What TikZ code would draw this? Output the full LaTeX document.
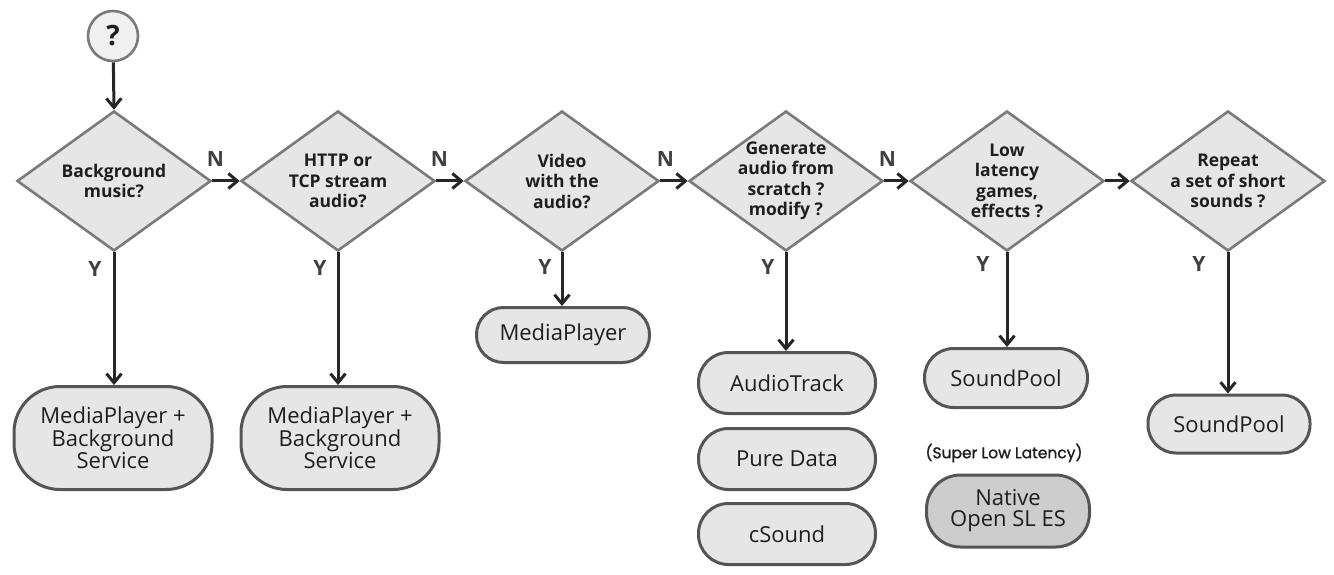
\documentclass[tikz,border=0pt]{standalone}
\usepackage{fontspec}
\setmainfont{Open Sans}
\newfontfamily\popfont[FakeBold=1.2]{Poppins}
\usetikzlibrary{shapes.geometric,arrows.meta}
\definecolor{boxfill}{HTML}{E6E6E6}
\definecolor{darkfill}{HTML}{CDCDCD}
\definecolor{diamondline}{HTML}{7A7A7A}
\definecolor{boxline}{HTML}{555555}
\definecolor{arrowcol}{HTML}{262626}
\definecolor{textcol}{HTML}{1E1E1E}
\definecolor{labcol}{HTML}{404040}
\begin{document}
\begin{tikzpicture}[x=1pt,y=-1pt,
  startnode/.style={circle, draw=diamondline, fill=boxfill!60!white, line width=2.6pt, minimum size=50pt, inner sep=0pt, font=\bfseries\fontsize{28}{28}\selectfont, text=textcol},
  decision/.style={diamond, draw=diamondline, fill=boxfill, line width=2.6pt, minimum width=194pt, minimum height=140pt, inner sep=0pt, shape aspect=1.386},
  qtext/.style={font=\bfseries\fontsize{17.5}{20.5}\selectfont, text=textcol, align=center, inner sep=0pt},
  result/.style={draw=boxline, fill=boxfill, line width=3pt, align=center, inner sep=0pt, font=\fontsize{22}{21}\selectfont, text=textcol},
  flow/.style={draw=arrowcol, line width=3pt, -{Straight Barb[length=9pt,width=15pt,line width=3pt]}},
  yn/.style={font=\bfseries\fontsize{21}{21}\selectfont, text=labcol, inner sep=0pt},
  note/.style={font=\popfont\fontsize{15.5}{16}\selectfont, text=textcol, inner sep=0pt}
]
\useasboundingbox (0,0) rectangle (1334,575);

\node[startnode] (q) at (113,36) {?};

\node[decision] (d1) at (114,181) {};
\node[decision] (d2) at (338,181) {};
\node[decision] (d3) at (562,181) {};
\node[decision] (d4) at (786,181) {};
\node[decision] (d5) at (1007,181) {};
\node[decision] (d6) at (1228,181) {};

\node[qtext] (t1) at (d1) {Background\\music?};
\node[qtext] (t2) at (d2) {HTTP or\\TCP stream\\audio?};
\node[qtext] (t3) at (d3) {Video\\with the\\audio?};
\node[qtext] (t4) at (d4) {Generate\\audio from\\scratch ?\\modify ?};
\node[qtext] (t5) at (d5) {Low\\latency\\games,\\effects ?};
\node[qtext] (t6) at (d6) {Repeat\\a set of short\\sounds ?};

\node[result, minimum width=198pt, minimum height=103pt, rounded corners=46pt] (r1) at (113,438) {MediaPlayer +\\Background\\Service};
\node[result, minimum width=198pt, minimum height=103pt, rounded corners=46pt] (r2) at (340,438) {MediaPlayer +\\Background\\Service};
\node[result, minimum width=173pt, minimum height=55pt, rounded corners=27pt] (r3) at (563,335) {MediaPlayer};
\node[result, minimum width=177pt, minimum height=61pt, rounded corners=30pt] (r4) at (787,383) {AudioTrack};
\node[result, minimum width=177pt, minimum height=61pt, rounded corners=30pt] (r5) at (787,459) {Pure Data};
\node[result, minimum width=177pt, minimum height=61pt, rounded corners=30pt] (r6) at (787,534) {cSound};
\node[result, minimum width=163pt, minimum height=59pt, rounded corners=29pt] (r7) at (1006,378) {SoundPool};
\node[note] (n1) at (1004,453) {(Super Low Latency)};
\node[result, fill=darkfill, minimum width=163pt, minimum height=72pt, rounded corners=34pt] (r8) at (1008,511) {Native\\Open SL ES};
\node[result, minimum width=162pt, minimum height=58pt, rounded corners=28pt] (r9) at (1229,424) {SoundPool};

\draw[flow] (q) -- (d1.north);
\draw[flow] (d1.east) -- (d2.west);
\draw[flow] (d2.east) -- (d3.west);
\draw[flow] (d3.east) -- (d4.west);
\draw[flow] (d4.east) -- (d5.west);
\draw[flow] (d5.east) -- (d6.west);

\draw[flow] (d1.south) -- (d1.south |- r1.north);
\draw[flow] (d2.south) -- (d2.south |- r2.north);
\draw[flow] (d3.south) -- (d3.south |- r3.north);
\draw[flow] (d4.south) -- (d4.south |- r4.north);
\draw[flow] (d5.south) -- (d5.south |- r7.north);
\draw[flow] (d6.south) -- (d6.south |- r9.north);

\node[yn] (n_1) at ([xshift=3pt,yshift=22pt]d1.east) {N};
\node[yn] (n_2) at ([xshift=3pt,yshift=22pt]d2.east) {N};
\node[yn] (n_3) at ([xshift=5pt,yshift=22pt]d3.east) {N};
\node[yn] (n_4) at ([xshift=3pt,yshift=22pt]d4.east) {N};

\node[yn] (y1) at ([xshift=-19pt,yshift=-17pt]d1.south) {Y};
\node[yn] (y2) at ([xshift=-18pt,yshift=-16pt]d2.south) {Y};
\node[yn] (y3) at ([xshift=-17pt,yshift=-15pt]d3.south) {Y};
\node[yn] (y4) at ([xshift=-18pt,yshift=-15pt]d4.south) {Y};
\node[yn] (y5) at ([xshift=-24pt,yshift=-12pt]d5.south) {Y};
\node[yn] (y6) at ([xshift=-29pt,yshift=-12pt]d6.south) {Y};
\end{tikzpicture}
\end{document}
